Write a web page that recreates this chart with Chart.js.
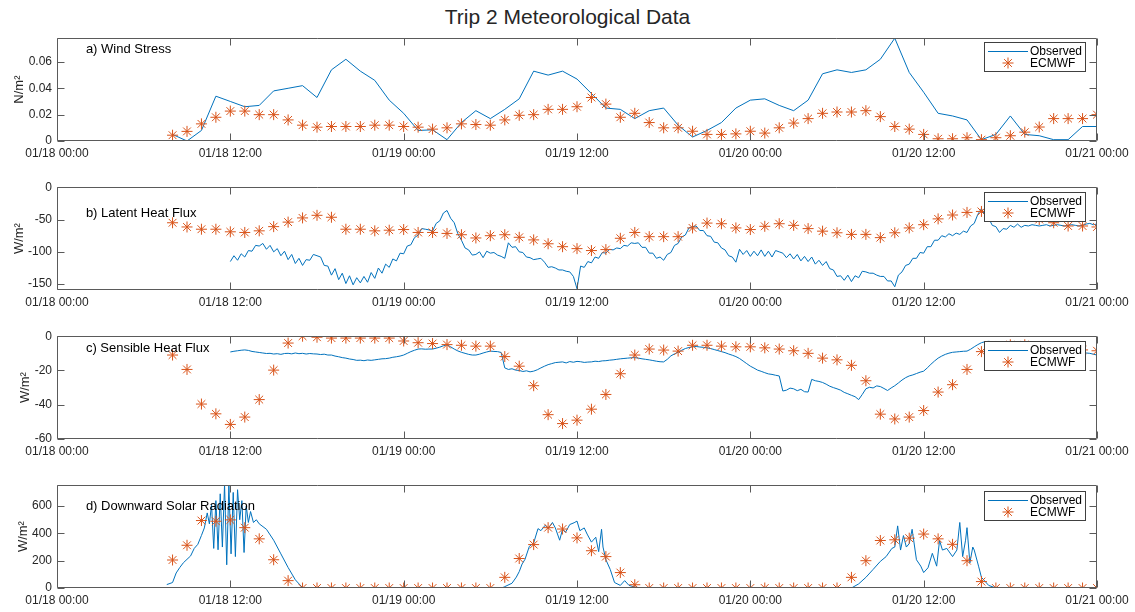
<!DOCTYPE html>
<html><head><meta charset="utf-8">
<script src="https://cdn.jsdelivr.net/npm/chart.js@4/dist/chart.umd.min.js"></script>
<style>
html,body{margin:0;padding:0;background:#fff}
body{width:1135px;height:612px;position:relative;overflow:hidden;font-family:"Liberation Sans",Arial,sans-serif}
#title{position:absolute;left:0;width:1135px;top:5px;text-align:center;font-size:21px;color:#262626;line-height:24px}
canvas{position:absolute;left:0}
</style></head><body>
<div id="title">Trip 2 Meteorological Data</div>
<canvas id="ca" width="1135" height="140" style="top:26px"></canvas>
<canvas id="cb" width="1135" height="140" style="top:175px"></canvas>
<canvas id="cc" width="1135" height="140" style="top:324px"></canvas>
<canvas id="cd" width="1135" height="140" style="top:473px"></canvas>
<script>
// ---- x axis (hours since 01/18 00:00) ----
const tickHours = [0, 12, 24, 36, 48, 60, 72];
const tickLabels = ["01/18 00:00", "01/18 12:00", "01/19 00:00", "01/19 12:00", "01/20 00:00", "01/20 12:00", "01/21 00:00"];

// ---- ECMWF (hourly, 01/18 08:00 .. 01/21 00:00) ----
const ecmStart = 8;
const ecmWind = [0.0044,0.0073,0.013,0.018,0.0227,0.0227,0.020,0.020,0.016,0.012,
  0.0105,0.011,0.011,0.011,0.012,0.012,0.011,0.0105,0.009,0.010,
  0.013,0.0125,0.012,0.016,0.0195,0.020,0.024,0.024,0.026,0.033,
  0.028,0.018,0.021,0.014,0.010,0.010,0.0074,0.005,0.005,0.0054,
  0.0074,0.006,0.010,0.0136,0.017,0.021,0.022,0.022,0.023,0.0185,
  0.011,0.009,0.005,0.0017,0.0017,0.0025,0.001,0.0025,0.004,0.0067,
  0.0106,0.017,0.017,0.017,0.020];
const ecmLatent = [-55,-61.5,-65,-65,-69,-70,-67.5,-61,-54,-47.5,
  -43.5,-46.5,-65,-65,-67.5,-66.5,-65.5,-70,-70,-71.5,
  -73.5,-78.5,-75,-73.5,-77.5,-81.5,-87.5,-92,-95,-98,
  -96.5,-79,-70,-76.5,-76.5,-76.5,-63,-55.5,-56.5,-63,
  -65.5,-60.5,-56.5,-59,-64,-68,-70.5,-73,-73,-78,
  -70.5,-63,-58,-49,-43,-39,-37.5,-36,-40,-45,
  -50,-55,-60,-60,-61.5];
const ecmSensible = [-11,-19.4,-39.6,-45.3,-51.5,-47.2,-37,-19.8,-4,0,
  -0.6,-1.1,-1.1,-1.1,-1.1,-1.1,-2.8,-3.8,-4.3,-4.9,
  -5.3,-5.8,-5.8,-11.9,-17.5,-28.9,-45.8,-51,-49,-42.6,
  -34,-21.9,-11,-7.5,-8.1,-8.7,-5.3,-5.3,-5.8,-6.2,
  -6.2,-6.8,-7.5,-8.5,-10,-12.8,-13.8,-17,-26,-45.5,
  -48.3,-47.2,-43.4,-32.6,-28.3,-19.4,-9,-6,-5,-5,
  -6,-7,-8,-8,-8.5];
const ecmSolar = [205,313,494,489,499,442,360,207,54,0,
  0,0,0,0,0,0,0,0,0,0,
  0,0,0,78,216,318,442,432,367,273,
  230,113,24,0,0,0,0,0,0,0,
  0,0,0,0,0,0,0,78,200,348,
  353,365,395,360,320,200,47,0,0,0,
  0,0,0,0,0];

// ---- Observed ----
// wind stress, hourly from 08:00
const obsWindStart = 8;
const obsWind = [0.005,0.0,0.008,0.034,0.030,0.026,0.027,0.038,0.040,0.042,
  0.033,0.054,0.062,0.053,0.046,0.031,0.021,0.008,0.0085,0.001,
  0.014,0.023,0.017,0.024,0.032,0.053,0.050,0.053,0.047,0.036,
  0.025,0.024,0.017,0.023,0.025,0.012,0.003,0.008,0.014,0.025,
  0.031,0.032,0.027,0.023,0.031,0.051,0.054,0.052,0.054,0.062,
  0.078,0.052,0.037,0.021,0.019,0.016,0.001,0.005,0.019,0.005,
  0.004,0.001,0.001,0.011,0.011];
// latent & sensible heat flux, every 15 min from 12:00 (one hour = 4 values)
const obsFluxStart = 12;
const obsLatent = [
  -115,-106,-113,-103, -108,-98,-99,-90, -91,-87,-96,-90, -100,-95,-106,-99,
  -112,-104,-118,-110, -121,-112,-113,-104, -106,-108,-121,-122, -136,-126,-143,-133,
  -149,-137,-151,-140, -148,-138,-147,-132, -141,-125,-133,-119, -124,-111,-114,-102,
  -103,-91,-89,-78, -74,-64,-65,-66, -68,-56,-52,-40, -36,-48,-55,-72,
  -82,-94,-97,-105, -104,-100,-109,-99, -102,-101,-105,-107, -110,-86,-93,-92,
  -100,-101,-108,-109, -112,-111,-110,-116, -124,-123,-125,-128, -128,-130,-131,-138,
  -157,-122,-124,-115, -117,-108,-110,-101, -102,-96,-97,-94, -95,-90,-91,-86,
  -87,-86,-93,-93, -102,-102,-110,-108, -113,-104,-101,-90, -87,-77,-74,-63,
  -61,-60,-67,-67, -75,-76,-85,-86, -94,-97,-106,-108, -116,-96,-104,-98,
  -107,-99,-106,-97, -107,-99,-108,-98, -100,-102,-109,-103, -111,-104,-114,-107,
  -115,-108,-119,-113, -121,-115,-126,-128, -138,-137,-144,-136, -146,-137,-140,-130,
  -131,-133,-133,-136, -138,-138,-145,-145, -154,-136,-131,-121, -119,-110,-110,-101,
  -102,-92,-92,-82, -82,-75,-77,-72, -75,-71,-73,-68, -70,-60,-56,-42,
  -33,-44,-48,-59, -61,-70,-64,-65, -59,-62,-57,-62, -59,-60,-58,-59,
  -60,-59,-58,-60, -59,-58,-59,-60, -59,-58,-59,-60, -59,-57,-56,-58,
  -57];
const obsSensible = [
  -9.2,-8.8,-8.5,-8.2, -8.0,-8.3,-8.9,-9.2, -9.5,-9.8,-10.1,-10.0, -10.4,-10.2,-10.6,-10.1,
  -10.0,-10.3,-9.8,-10.2, -10.0,-10.4,-10.1,-10.3, -10.4,-10.7,-10.5,-11.0, -11.0,-11.6,-12.0,-12.5,
  -12.8,-13.3,-13.6,-14.1, -14.0,-14.3,-13.9,-14.1, -13.8,-13.5,-13.2,-13.1, -12.8,-12.3,-12.0,-11.6,
  -11.0,-10.0,-9.0,-8.2, -7.5,-7.4,-7.6,-7.5, -7.5,-7.0,-6.4,-5.6, -5.0,-6.2,-7.5,-8.6,
  -9.4,-10.0,-10.6,-11.0, -11.0,-10.5,-9.8,-9.2, -8.7,-8.9,-9.0,-9.5, -18.5,-19.4,-19.0,-19.8,
  -20.0,-20.6,-20.2,-20.8, -20.4,-19.6,-18.5,-17.5, -16.6,-16.0,-15.4,-15.2, -15.0,-15.6,-14.8,-15.2,
  -14.7,-14.9,-15.3,-15.1, -15.0,-14.6,-14.8,-14.4, -14.3,-14.0,-13.8,-13.5, -13.2,-13.0,-12.8,-12.6,
  -12.5,-12.8,-13.2,-13.5, -13.8,-14.2,-14.6,-14.9, -15.0,-13.5,-11.5,-10.3, -9.4,-8.2,-7.2,-6.6,
  -6.2,-6.0,-6.3,-6.5, -6.8,-7.2,-7.8,-8.4, -9.0,-9.6,-10.4,-11.1, -11.9,-13.0,-14.5,-16.0,
  -17.5,-18.6,-19.8,-20.5, -21.3,-22.0,-22.3,-22.8, -23.2,-32.0,-31.5,-30.3, -30.7,-31.8,-31.0,-32.4,
  -32.6,-25.2,-26.0,-26.4, -27.0,-28.0,-29.2,-30.0, -30.7,-31.5,-32.8,-33.6, -34.5,-35.3,-37.0,-34.0,
  -30.7,-29.8,-30.2,-29.0, -29.4,-30.5,-31.7,-30.2, -28.9,-27.3,-25.6,-24.2, -23.2,-22.6,-21.8,-21.0,
  -20.4,-18.5,-16.4,-14.5, -12.8,-11.6,-10.6,-9.9, -9.4,-9.2,-9.0,-8.8, -8.7,-7.6,-6.2,-4.9,
  -3.8,-3.2,-3.0,-3.2, -3.5,-4.0,-4.6,-5.0, -5.4,-5.8,-6.1,-6.5, -6.8,-7.0,-7.2,-7.4,
  -7.6,-7.8,-8.0,-8.2, -8.4,-8.5,-8.7,-8.9, -9.0,-9.2,-9.4,-9.5, -9.6,-9.8,-10.0,-10.5,
  -11.0];
// downward solar radiation, irregular sample times (hours)
const obsSolarHours = [7.6,8.0,8.25,8.5,8.75,9.0,9.25,9.5,9.75,10.0,10.2,10.4,10.55,10.7,10.85,11.0,11.15,11.3,11.45,11.6,
  11.75,11.9,12.05,12.2,12.35,12.5,12.65,12.8,12.95,13.1,13.25,13.4,13.6,13.8,14.0,14.5,15.0,15.5,16.0,16.5,
  17.0,17.5,30.8,31.0,31.5,31.8,32.0,32.2,32.4,32.7,33.0,33.3,33.5,33.8,34.0,34.3,34.5,34.8,35.0,35.2,
  35.5,35.8,36.0,36.2,36.5,36.7,37.0,37.3,37.5,37.7,37.8,38.0,38.3,38.6,39.0,39.3,39.6,40.0,40.5,55.0,
  55.5,56.0,56.5,57.0,57.4,57.8,58.0,58.2,58.4,58.6,58.8,59.0,59.2,59.5,59.8,60.0,60.3,60.6,60.9,61.1,
  61.3,61.6,62.0,62.3,62.5,62.7,62.9,63.0,63.2,63.4,63.5,63.8,64.0,64.5,65.0,72.0];
const obsSolar = [25,40,110,150,185,210,235,290,320,385,440,550,470,610,290,640,280,690,300,760,
  170,760,250,700,230,720,500,640,260,600,480,560,480,500,470,430,350,250,150,60,
  2,0,0,10,35,80,120,176,210,305,330,435,420,460,435,480,440,350,430,407,
  465,478,490,420,440,395,336,372,266,430,300,207,136,40,19,54,19,7,0,0,
  30,78,136,195,230,290,300,455,278,384,300,325,430,207,160,113,148,254,160,348,
  278,290,230,278,480,230,350,442,184,300,278,160,78,19,0,0];

// ---- panel texts / y ticks ----
const panelLabels = ["a) Wind Stress", "b) Latent Heat Flux", "c) Sensible Heat Flux", "d) Downward Solar Radiation"];
const yTitles = ["N/m²", "W/m²", "W/m²", "W/m²"];
const yTicksA = [0, 0.02, 0.04, 0.06], yTickLabelsA = ["0", "0.02", "0.04", "0.06"];
const yTicksB = [-150, -100, -50, 0], yTickLabelsB = ["-150", "-100", "-50", "0"];
const yTicksC = [-60, -40, -20, 0], yTickLabelsC = ["-60", "-40", "-20", "0"];
const yTicksD = [0, 200, 400, 600], yTickLabelsD = ["0", "200", "400", "600"];
const seriesNames = ["Observed", "ECMWF"];

// ---- styling ----
const FONT = '"Liberation Sans", Arial, Helvetica, sans-serif';
const AXIS = '#5a5a5a', TEXT = '#262626', BLUE = '#0072BD', ORANGE = '#D95319';
Chart.defaults.font.family = FONT;

const toPts = (start, step, arr) => arr.map((v, i) => ({x: start + i * step, y: v}));
const zipPts = (xs, ys) => ys.map((v, i) => ({x: xs[i], y: v}));

const framePlugin = {
  id: 'frame',
  afterDatasetsDraw(chart) {
    const o = chart.options.plugins.frame;
    const {ctx, chartArea: a} = chart;
    const xs = chart.scales.x, ys = chart.scales.y;
    const L = Math.round(a.left) + 0.5, R = Math.round(a.right) - 0.5;
    const T = Math.round(a.top) + 0.5, B = Math.round(a.bottom) - 0.5;
    const TL = 7;
    ctx.save();
    // panel label
    ctx.fillStyle = '#000';
    ctx.font = '13px ' + FONT;
    ctx.textBaseline = 'middle'; ctx.textAlign = 'left';
    ctx.fillText(o.label, xs.getPixelForValue(o.labelX), ys.getPixelForValue(o.labelY));
    // box + inward ticks
    ctx.strokeStyle = AXIS; ctx.lineWidth = 1;
    ctx.beginPath(); ctx.rect(L, T, R - L, B - T); ctx.stroke();
    ctx.beginPath();
    xs.ticks.forEach(t => {
      const px = Math.round(xs.getPixelForValue(t.value)) + 0.5;
      ctx.moveTo(px, B); ctx.lineTo(px, B - TL);
      ctx.moveTo(px, T); ctx.lineTo(px, T + TL);
    });
    ys.ticks.forEach(t => {
      const py = Math.round(ys.getPixelForValue(t.value)) + 0.5;
      ctx.moveTo(L, py); ctx.lineTo(L + TL, py);
      ctx.moveTo(R, py); ctx.lineTo(R - TL, py);
    });
    ctx.stroke();
    // legend box
    const lw = 102, lh = 30;
    const lx = Math.round(a.right) - 11 - lw, ly = Math.round(a.top) + o.legendDy;
    ctx.fillStyle = '#fff'; ctx.fillRect(lx, ly, lw, lh);
    ctx.strokeStyle = '#404040'; ctx.strokeRect(lx + 0.5, ly + 0.5, lw - 1, lh - 1);
    const ds = chart.data.datasets;
    ctx.strokeStyle = ds[0].borderColor; ctx.lineWidth = 1;
    ctx.beginPath(); ctx.moveTo(lx + 4, ly + 9.5); ctx.lineTo(lx + 44, ly + 9.5); ctx.stroke();
    ctx.strokeStyle = ds[1].borderColor; ctx.fillStyle = ds[1].borderColor; ctx.lineWidth = 1;
    Chart.helpers.drawPoint(ctx, {pointStyle: 'star', radius: 5.5, borderWidth: 1, rotation: 0}, lx + 24, ly + 21);
    ctx.fillStyle = '#000'; ctx.font = '12px ' + FONT;
    ctx.fillText(ds[0].label, lx + 46, ly + 10);
    ctx.fillText(ds[1].label, lx + 46, ly + 21.5);
    ctx.restore();
  }
};

function makePanel(id, obs, ecm, yMin, yMax, yTicks, yTickLabels, yTitle, titlePad, label, labelX, labelY, legendDy) {
  return new Chart(document.getElementById(id), {
    type: 'scatter',
    data: {
      datasets: [
        {label: seriesNames[0], data: obs, showLine: true, borderColor: BLUE, backgroundColor: BLUE,
         borderWidth: 1, pointRadius: 0, pointHoverRadius: 0, tension: 0, order: 2},
        {label: seriesNames[1], data: ecm, showLine: false, pointStyle: 'star', pointRadius: 5.5,
         pointBorderWidth: 1, borderColor: ORANGE, backgroundColor: ORANGE, order: 1}
      ]
    },
    options: {
      responsive: false, animation: false, events: [],
      layout: {padding: {top: 10, right: 38, left: 0, bottom: 0}},
      plugins: {
        legend: {display: false}, tooltip: {enabled: false},
        frame: {label, labelX, labelY, legendDy}
      },
      scales: {
        x: {
          type: 'linear', min: 0, max: 72,
          afterBuildTicks: s => { s.ticks = tickHours.map(v => ({value: v})); },
          afterFit: s => { s.height = 25; },
          ticks: {autoSkip: false, maxRotation: 0, padding: 5, color: TEXT, font: {size: 12},
                  callback: v => tickLabels[tickHours.indexOf(v)]},
          grid: {display: false, drawTicks: false},
          border: {display: false}
        },
        y: {
          type: 'linear', min: yMin, max: yMax,
          afterBuildTicks: s => { s.ticks = yTicks.map(v => ({value: v})); },
          afterFit: s => { s.width = 57; },
          ticks: {autoSkip: false, padding: 5, color: TEXT, font: {size: 12},
                  callback: v => yTickLabels[yTicks.indexOf(v)]},
          grid: {display: false, drawTicks: false},
          border: {display: false},
          title: {display: true, text: yTitle, color: TEXT, font: {size: 13}, padding: {top: titlePad, bottom: 0}}
        }
      }
    },
    plugins: [framePlugin]
  });
}

makePanel('ca', toPts(obsWindStart, 1, obsWind), toPts(ecmStart, 1, ecmWind),
  0, 0.078, yTicksA, yTickLabelsA, yTitles[0], 12, panelLabels[0], 2, 0.0695, 4);
makePanel('cb', toPts(obsFluxStart, 0.25, obsLatent), toPts(ecmStart, 1, ecmLatent),
  -159, 0, yTicksB, yTickLabelsB, yTitles[1], 12, panelLabels[1], 2, -40, 5);
makePanel('cc', toPts(obsFluxStart, 0.25, obsSensible), toPts(ecmStart, 1, ecmSensible),
  -60, 0, yTicksC, yTickLabelsC, yTitles[2], 18, panelLabels[2], 2, -7.3, 5);
makePanel('cd', zipPts(obsSolarHours, obsSolar), toPts(ecmStart, 1, ecmSolar),
  0, 753, yTicksD, yTickLabelsD, yTitles[3], 16, panelLabels[3], 2, 595, 6);
</script>
</body></html>
